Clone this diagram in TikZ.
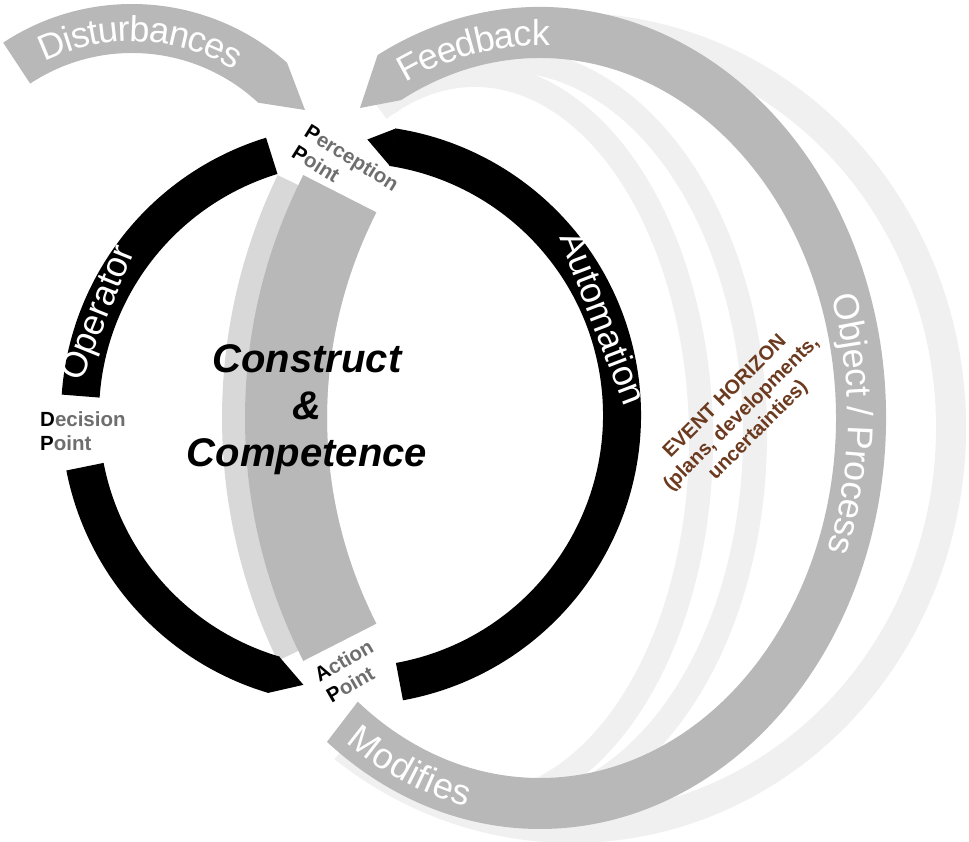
\documentclass[tikz,border=0pt]{standalone}
\usepackage{fontspec}
\setmainfont{Liberation Sans}
\usetikzlibrary{decorations.text}

\definecolor{bandgray}{RGB}{184,184,184}
\definecolor{ghostgray}{RGB}{240,240,240}
\definecolor{paler}{RGB}{216,216,216}
\definecolor{labelgray}{RGB}{110,110,110}
\definecolor{horizon}{RGB}{108,58,30}
\newcommand{\bandfont}{\fontsize{36}{36}\selectfont\color{white}}

\begin{document}
\begin{tikzpicture}[
  x=1pt, y=1pt,
  ringarc/.style  = {draw=black, line width=38pt},
  ghost/.style    = {draw=ghostgray, line width=24pt},
  bandtxt/.style  = {decorate, decoration={text along path, text align=center,
                     raise=-13pt, text={|\bandfont|#1}}},
  pointlbl/.style = {font=\bfseries\fontsize{20.5}{24}\selectfont, text=labelgray,
                     align=left, inner sep=0pt},
  ringtxt/.style  = {font=\fontsize{36}{36}\selectfont, text=white, inner sep=0pt},
]

\fill[white] (0,0) rectangle (969,842);
\useasboundingbox (0,0) rectangle (969,842);

% ======================= ghost arcs ====================================
\begin{scope}[shift={(572,414)}]
  \draw[ghost, line width=30pt] (118:379 and 400)
    arc[start angle=118, end angle=-127, x radius=379, y radius=400];
\end{scope}
\begin{scope}[shift={(475,402)}]
  \draw[ghost] (115:226 and 365)
    arc[start angle=115, end angle=-125, x radius=226, y radius=365];
\end{scope}
\begin{scope}[shift={(505,407)}]
  \draw[ghost] (118:250 and 375)
    arc[start angle=118, end angle=-125, x radius=250, y radius=375];
\end{scope}

% ======================= object / process band =========================
\begin{scope}[shift={(540,424)}]
  \fill[bandgray] (118:346 and 411)
    arc[start angle=118, end angle=-128, x radius=346, y radius=411]
    -- (-128:296 and 360)
    arc[start angle=-128, end angle=118, x radius=296, y radius=360]
    -- (-180,310) -- cycle;
  \path[bandtxt=Feedback] (122:321 and 385.5)
    arc[start angle=122, end angle=82, x radius=321, y radius=385.5];
  \path[bandtxt={Object / Process}] (40:321 and 385.5)
    arc[start angle=40, end angle=-42, x radius=321, y radius=385.5];
  \path[bandtxt=Modifies] (234:321 and 385.5)
    arc[start angle=234, end angle=258, x radius=321, y radius=385.5];
\end{scope}

% ======================= disturbances ==================================
\begin{scope}[shift={(132,604)}]
  \fill[bandgray] (123.4:234) arc[start angle=123.4, end angle=48.5, radius=234]
    -- (173,128) -- (47:185) arc[start angle=47, end angle=123.4, radius=185] -- cycle;
  \path[bandtxt=Disturbances] (123.4:209.5)
    arc[start angle=123.4, end angle=51.6, radius=209.5];
\end{scope}

% ======================= construct & competence ========================
\begin{scope}[shift={(780,424)}]
  \fill[paler] (154.2:558) arc[start angle=154.2, end angle=205.8, radius=558]
    -- (205.8:453) arc[start angle=205.8, end angle=154.2, radius=453] -- cycle;
  \fill[bandgray] (153:535) arc[start angle=153, end angle=207, radius=535]
    -- (207:453) arc[start angle=207, end angle=153, radius=453] -- cycle;
\end{scope}
\node[font=\bfseries\itshape\fontsize{40}{47}\selectfont, align=center, inner sep=0pt]
  (cc) at (307,432) {Construct\\\&\\Competence};

% ======================= operator / automation ring ====================
\begin{scope}[shift={(351,427)}]
  \draw[ringarc] (107:271) arc[start angle=107, end angle=176, radius=271];
  \draw[ringarc] (191:271) arc[start angle=191, end angle=253.5, radius=271];
  \fill (253.4:290) -- (260:274) -- (253.4:252) -- cycle;
  \draw[ringarc] (-79.7:271) arc[start angle=-79.7, end angle=81.2, radius=271];
  \fill (81.1:290) -- (86.6:276) -- (81.1:252) -- cycle;
  \node[ringtxt, rotate=68]  (oper) at (158:271) {Operator};
  \node[ringtxt, rotate=-69] (auto) at (21:271)  {Automation};
\end{scope}

% ======================= points ========================================
\node[pointlbl, rotate=-32, anchor=north west] (perc) at (311,719)
  {\textcolor{black}{P}erception\\\textcolor{black}{P}oint};
\node[pointlbl, anchor=north west] (deci) at (40,431)
  {\textcolor{black}{D}ecision\\\textcolor{black}{P}oint};
\node[pointlbl, rotate=30, anchor=north west] (act) at (312,172)
  {\textcolor{black}{A}ction\\\textcolor{black}{P}oint};

\node[font=\bfseries\fontsize{20}{23.5}\selectfont, text=horizon, align=center,
      rotate=45, inner sep=0pt] (eh) at (742,428)
  {EVENT HORIZON\\(plans, developments,\\uncertainties)};

\end{tikzpicture}
\end{document}
